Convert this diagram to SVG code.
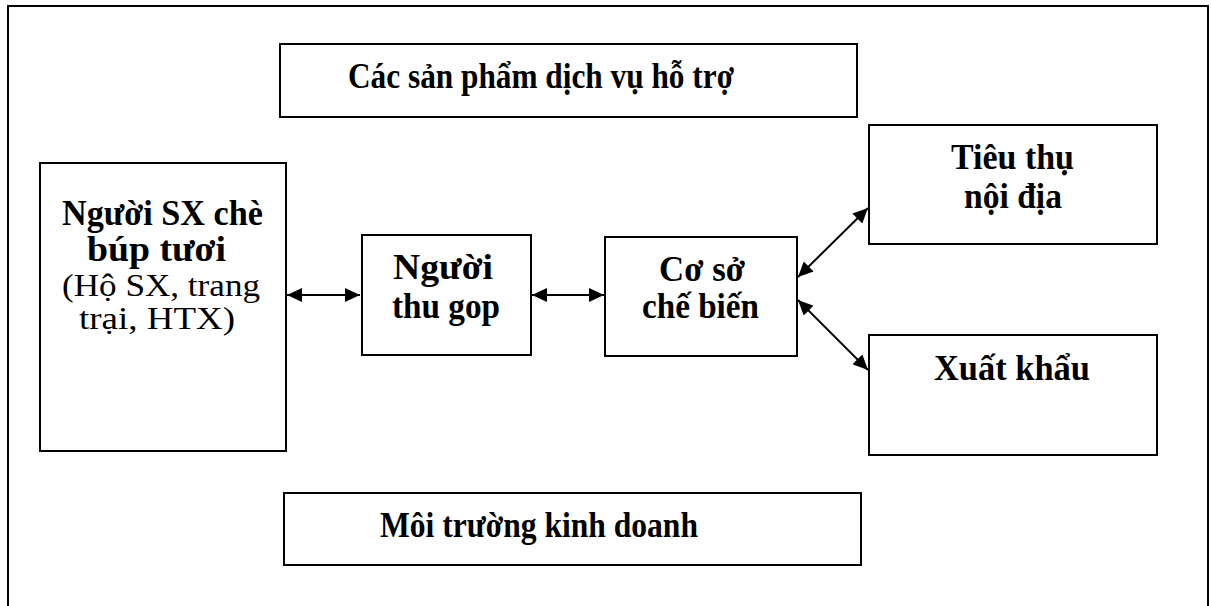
<svg xmlns="http://www.w3.org/2000/svg" width="1211" height="606" viewBox="0 0 1211 606">
<style>
.box{fill:#fff;stroke:#000;stroke-width:2}
.b{font-family:"Liberation Serif","Times New Roman",serif;font-weight:bold;font-size:35px;fill:#000}
.r{font-family:"Liberation Serif","Times New Roman",serif;font-size:32px;fill:#000}
.c{stroke:#000;stroke-width:2;fill:none;marker-start:url(#ah);marker-end:url(#ah)}
</style>
<defs>
<marker id="ah" viewBox="0 0 15 14" refX="15" refY="7" markerWidth="7.5" markerHeight="7" orient="auto-start-reverse" markerUnits="strokeWidth">
<path d="M0,0 L15,7 L0,14 z" fill="#000"/>
</marker>
</defs>
<rect width="1211" height="606" fill="#fff"/>
<rect x="8" y="6" width="1200" height="640" fill="none" stroke="#000" stroke-width="2"/>
<g id="ho-tro">
<rect class="box" x="280" y="44" width="577" height="73"/>
<text class="b" x="348" y="88" textLength="386" lengthAdjust="spacingAndGlyphs">Các sản phẩm dịch vụ hỗ trợ</text>
</g>
<g id="nguoi-sx">
<rect class="box" x="40" y="163" width="246" height="288"/>
<text class="b" x="62" y="225" textLength="201" lengthAdjust="spacingAndGlyphs">Người SX chè</text>
<text class="b" x="87" y="261" textLength="139" lengthAdjust="spacingAndGlyphs">búp tươi</text>
<text class="r" x="62" y="296" textLength="198" lengthAdjust="spacingAndGlyphs">(Hộ SX, trang</text>
<text class="r" x="79" y="329" textLength="156" lengthAdjust="spacingAndGlyphs">trại, HTX)</text>
</g>
<g id="thu-gom">
<rect class="box" x="362" y="235" width="169" height="120"/>
<text class="b" x="393" y="279" textLength="100" lengthAdjust="spacingAndGlyphs">Người</text>
<text class="b" x="392" y="318" textLength="108" lengthAdjust="spacingAndGlyphs">thu gop</text>
</g>
<g id="che-bien">
<rect class="box" x="605" y="237" width="192" height="119"/>
<text class="b" x="659" y="281" textLength="86" lengthAdjust="spacingAndGlyphs">Cơ sở</text>
<text class="b" x="642" y="318" textLength="117" lengthAdjust="spacingAndGlyphs">chế biến</text>
</g>
<g id="noi-dia">
<rect class="box" x="869" y="125" width="288" height="119"/>
<text class="b" x="951" y="169" textLength="123" lengthAdjust="spacingAndGlyphs">Tiêu thụ</text>
<text class="b" x="964" y="208" textLength="98" lengthAdjust="spacingAndGlyphs">nội địa</text>
</g>
<g id="xuat-khau">
<rect class="box" x="869" y="335" width="288" height="120"/>
<text class="b" x="934" y="380" textLength="156" lengthAdjust="spacingAndGlyphs">Xuất khẩu</text>
</g>
<g id="moi-truong">
<rect class="box" x="284" y="493" width="577" height="72"/>
<text class="b" x="380" y="537" textLength="318" lengthAdjust="spacingAndGlyphs">Môi trường kinh doanh</text>
</g>
<g id="connectors">
<line class="c" x1="287" y1="295" x2="360" y2="295"/>
<line class="c" x1="532" y1="295" x2="604" y2="295"/>
<line class="c" x1="798" y1="277" x2="868" y2="208"/>
<line class="c" x1="798" y1="300" x2="868" y2="370"/>
</g>
</svg>
